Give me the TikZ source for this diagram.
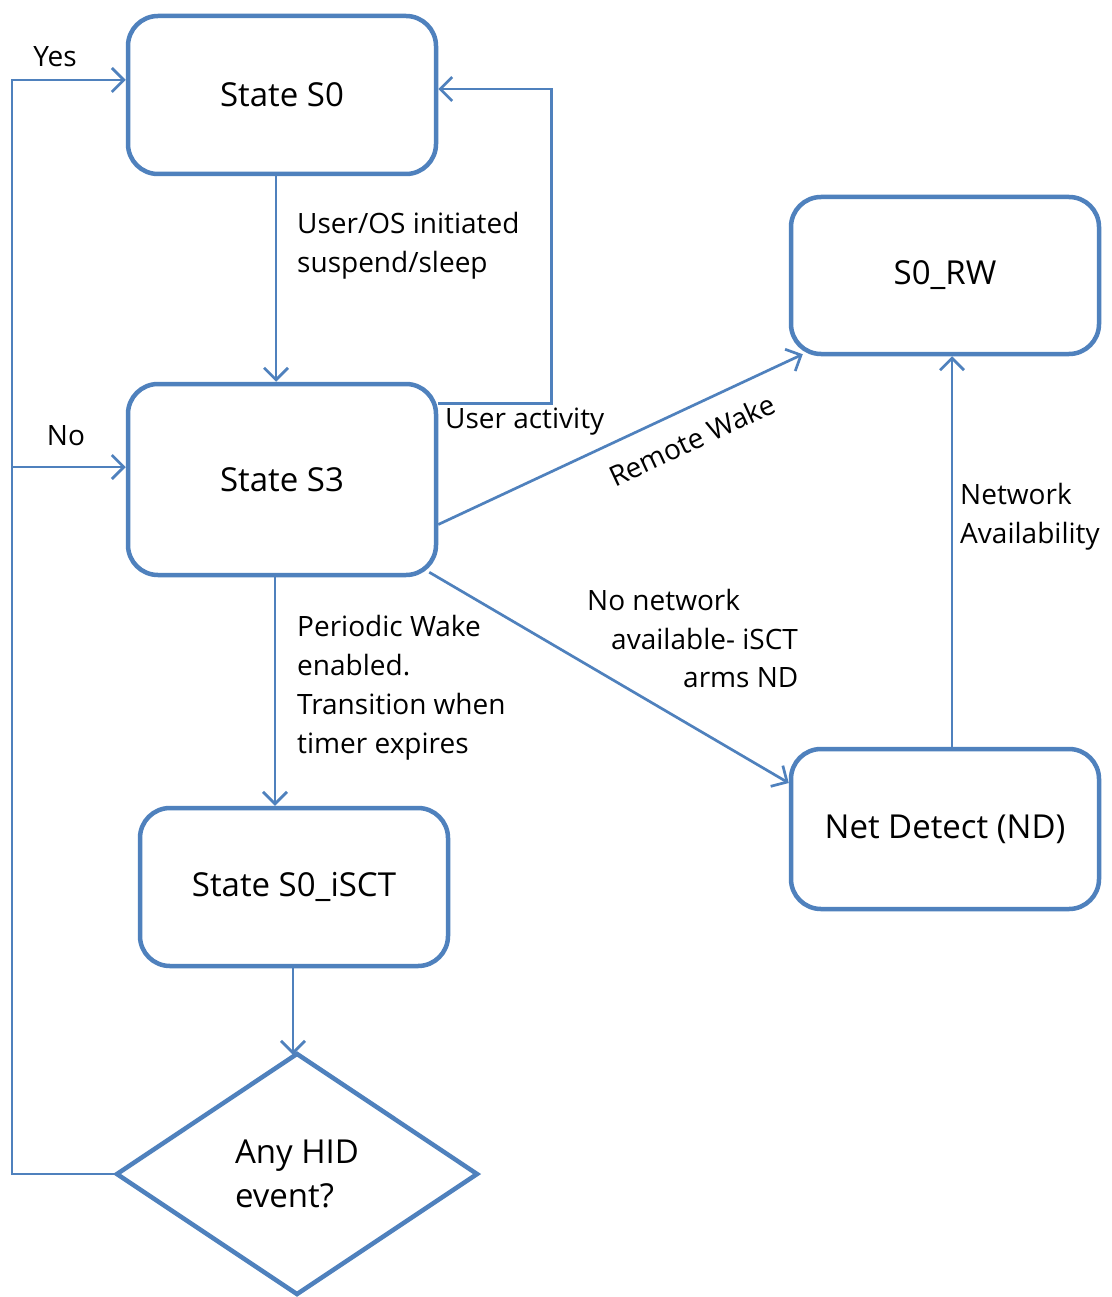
\documentclass[tikz,border=0pt]{standalone}
\usepackage{fontspec}
\setmainfont{Open Sans}
\usetikzlibrary{arrows.meta,shapes.geometric,calc}
\definecolor{lblue}{RGB}{79,129,189}
\begin{document}
\begin{tikzpicture}[x=1pt,y=-1pt,
  statebox/.style={draw=lblue,line width=4.5pt,rounded corners=30pt,minimum width=308pt,minimum height=158pt,inner sep=0pt,font=\fontsize{33}{40}\selectfont},
  arr/.style={draw=lblue,line width=2.7pt,-{Straight Barb[length=12pt,width=24pt,line width=2.7pt]}},
  lbl/.style={inner sep=0pt,font=\fontsize{28}{39}\selectfont,align=left}]
\path[use as bounding box,fill=white] (0,0) rectangle (1111,1297);

\node[statebox] (s0) at (282,95) {State S0};
\node[statebox,minimum height=191pt] (s3) at (282,479.5) {State S3};
\node[statebox] (isct) at (294,887) {State S0\_iSCT};
\node[statebox,minimum height=157pt] (rw) at (945,275.5) {S0\_RW};
\node[statebox,minimum height=160pt] (nd) at (945,829) {Net Detect (ND)};
\node[draw=lblue,line width=4.5pt,diamond,minimum width=362pt,minimum height=242pt,inner sep=0pt,align=left,font=\fontsize{33}{44}\selectfont] (hid) at (297,1174) {Any HID\\event?};

% S0 -> S3
\draw[arr] ([xshift=-6pt]s0.south) -- ([xshift=-6pt]s0.south |- s3.north);
% user activity loop
\draw[arr] ([yshift=-22pt]s3.north east) -| ([xshift=113pt,yshift=6pt]s0.east) -- ([yshift=6pt]s0.east);
% remote wake
\draw[arr] ([yshift=-45pt]s3.east) -- ([xshift=14pt,yshift=2pt]rw.south west);
% no network
\draw[arr] ([xshift=-9pt,yshift=5pt]s3.south east) -- ([yshift=46pt]nd.west);
% periodic wake
\draw[arr] ([xshift=-7pt]s3.south) -- ([xshift=-7pt]s3.south |- isct.north);
% to diamond
\draw[arr] ([xshift=-1pt]isct.south) -- ([xshift=-1pt,yshift=-4pt]isct.south |- hid.north);
% yes loop
\coordinate (lft) at (12,1174);
\draw[arr] (hid.west) -- (lft) |- ([yshift=15pt]s0.west);
% no branch
\coordinate (nob) at (12,467);
\draw[arr] (nob) -- (nob -| s3.west);
% network availability
\draw[arr] ([xshift=7pt]nd.north) -- ([xshift=7pt]rw.south);

% labels
\node[lbl] (lyes) at (55,57) {Yes};
\node[lbl] (lno) at (66,436) {No};
\node[lbl,anchor=north west] (lsus) at (297,212) {User/OS initiated\\suspend/sleep};
\node[lbl,anchor=west] (lua) at (445,422) {User activity};
\node[lbl,rotate=25] (lrw) at (692,440) {Remote Wake};
\node[lbl,anchor=west] (lnn1) at (587,600) {No network};
\node[lbl,anchor=west] (lnn2) at (611,639) {available- iSCT};
\node[lbl,anchor=west] (lnn3) at (683,678) {arms ND};
\node[lbl,anchor=north west] (lpw) at (297,615) {Periodic Wake\\enabled.\\Transition when\\timer expires};
\node[lbl,anchor=north west] (lna) at (960,483) {Network\\Availability};
\end{tikzpicture}
\end{document}
